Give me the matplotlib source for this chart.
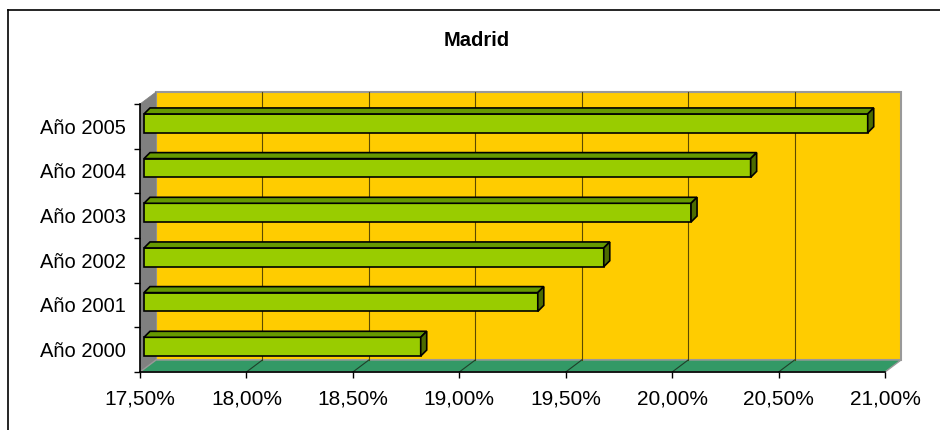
import matplotlib
matplotlib.use("Agg")
import matplotlib.pyplot as plt
from matplotlib.patches import Polygon
from matplotlib.lines import Line2D

# data
years = ["Año 2000", "Año 2001", "Año 2002", "Año 2003", "Año 2004", "Año 2005"]
values = [18.80, 19.35, 19.66, 20.07, 20.35, 20.90]
xticks = [17.5, 18.0, 18.5, 19.0, 19.5, 20.0, 20.5, 21.0]
title = "Madrid"

plt.rcParams['font.family'] = ['Liberation Sans', 'DejaVu Sans']

fig = plt.figure(figsize=(9.4, 4.3), dpi=100)
ax = fig.add_axes([140 / 940, 1 - 372 / 430, 745 / 940, 268 / 430])
ax.set_facecolor('none')

xmin, xmax = xticks[0], xticks[-1]
ymin, ymax = -0.5, len(years) - 0.5
ax.set_xlim(xmin, xmax)
ax.set_ylim(ymin, ymax)

# depth of the 3d box (data units)
DX = 16 / 745 * (xmax - xmin)
DY = 12 / 268 * (ymax - ymin)

# back wall
ax.add_patch(Polygon([(xmin + DX, ymin + DY), (xmax + DX, ymin + DY),
                      (xmax + DX, ymax + DY), (xmin + DX, ymax + DY)],
                     closed=True, facecolor='#FFCC00', edgecolor='#999999',
                     lw=1.5, clip_on=False, zorder=0))
# side wall
ax.add_patch(Polygon([(xmin, ymin), (xmin + DX, ymin + DY),
                      (xmin + DX, ymax + DY), (xmin, ymax)],
                     closed=True, facecolor='#808080', edgecolor='#808080',
                     lw=0.5, clip_on=False, zorder=0))
# floor
ax.add_patch(Polygon([(xmin, ymin), (xmax, ymin),
                      (xmax + DX, ymin + DY), (xmin + DX, ymin + DY)],
                     closed=True, facecolor='#339966', edgecolor='#999999',
                     lw=1.0, clip_on=False, zorder=0))

# gridlines on back wall + floor
for t in xticks[1:-1]:
    ax.add_line(Line2D([t + DX, t + DX], [ymin + DY, ymax + DY],
                       color='#5c4a00', lw=0.8, zorder=1, clip_on=False))
    ax.add_line(Line2D([t, t + DX], [ymin, ymin + DY],
                       color='#1f3f2a', lw=0.8, zorder=1, clip_on=False))

# bars with a little 3d effect
bx = 4 / 745 * (xmax - xmin)
by = 3 / 268 * (ymax - ymin)
bdx = 6 / 745 * (xmax - xmin)
bdy = 6 / 268 * (ymax - ymin)
h = 0.42
ypos = list(range(len(years)))
ax.barh([y + by for y in ypos], [v - xmin for v in values], left=xmin + bx,
        height=h, color='#99CC00', edgecolor='black', lw=1.2, zorder=3,
        clip_on=False)
for y, v in zip(ypos, values):
    x0, x1 = xmin + bx, v + bx
    yt, yb = y + by + h / 2, y + by - h / 2
    ax.add_patch(Polygon([(x0, yt), (x1, yt), (x1 + bdx, yt + bdy), (x0 + bdx, yt + bdy)],
                         closed=True, facecolor='#669900', edgecolor='black',
                         lw=1.2, zorder=3, clip_on=False, joinstyle='miter'))
    ax.add_patch(Polygon([(x1, yb), (x1, yt), (x1 + bdx, yt + bdy), (x1 + bdx, yb + bdy)],
                         closed=True, facecolor='#4D6B00', edgecolor='black',
                         lw=1.2, zorder=3, clip_on=False, joinstyle='miter'))

# axes styling
for s in ['top', 'right']:
    ax.spines[s].set_visible(False)
ax.spines['left'].set_linewidth(1.2)
ax.spines['bottom'].set_linewidth(1.2)
ax.spines['left'].set_zorder(2)
ax.spines['bottom'].set_zorder(2)

ax.set_xticks(xticks)
ax.set_xticklabels([f"{t:.2f}".replace('.', ',') + '%' for t in xticks], fontsize=15)
ax.tick_params(axis='x', direction='out', length=4.5, width=1, pad=8)

ax.set_yticks(ypos)
ax.set_yticklabels(years, fontsize=14.5, va='center_baseline')
ax.tick_params(axis='y', which='major', length=0, pad=10)
ax.set_yticks([y + 0.5 for y in range(-1, len(years))], minor=True)
ax.tick_params(axis='y', which='minor', direction='out', length=4, width=1)

fig.text(477 / 940, 1 - 40 / 430, title, ha='center', va='center',
         fontsize=14.5, fontweight='bold')

# outer chart border
fig.add_artist(Line2D([8 / 940, 1], [1 - 10 / 430, 1 - 10 / 430],
                      transform=fig.transFigure, color='black', lw=1.2))
fig.add_artist(Line2D([8 / 940, 8 / 940], [0, 1 - 10 / 430],
                      transform=fig.transFigure, color='black', lw=1.2))

fig.savefig('out.png', dpi=100)
